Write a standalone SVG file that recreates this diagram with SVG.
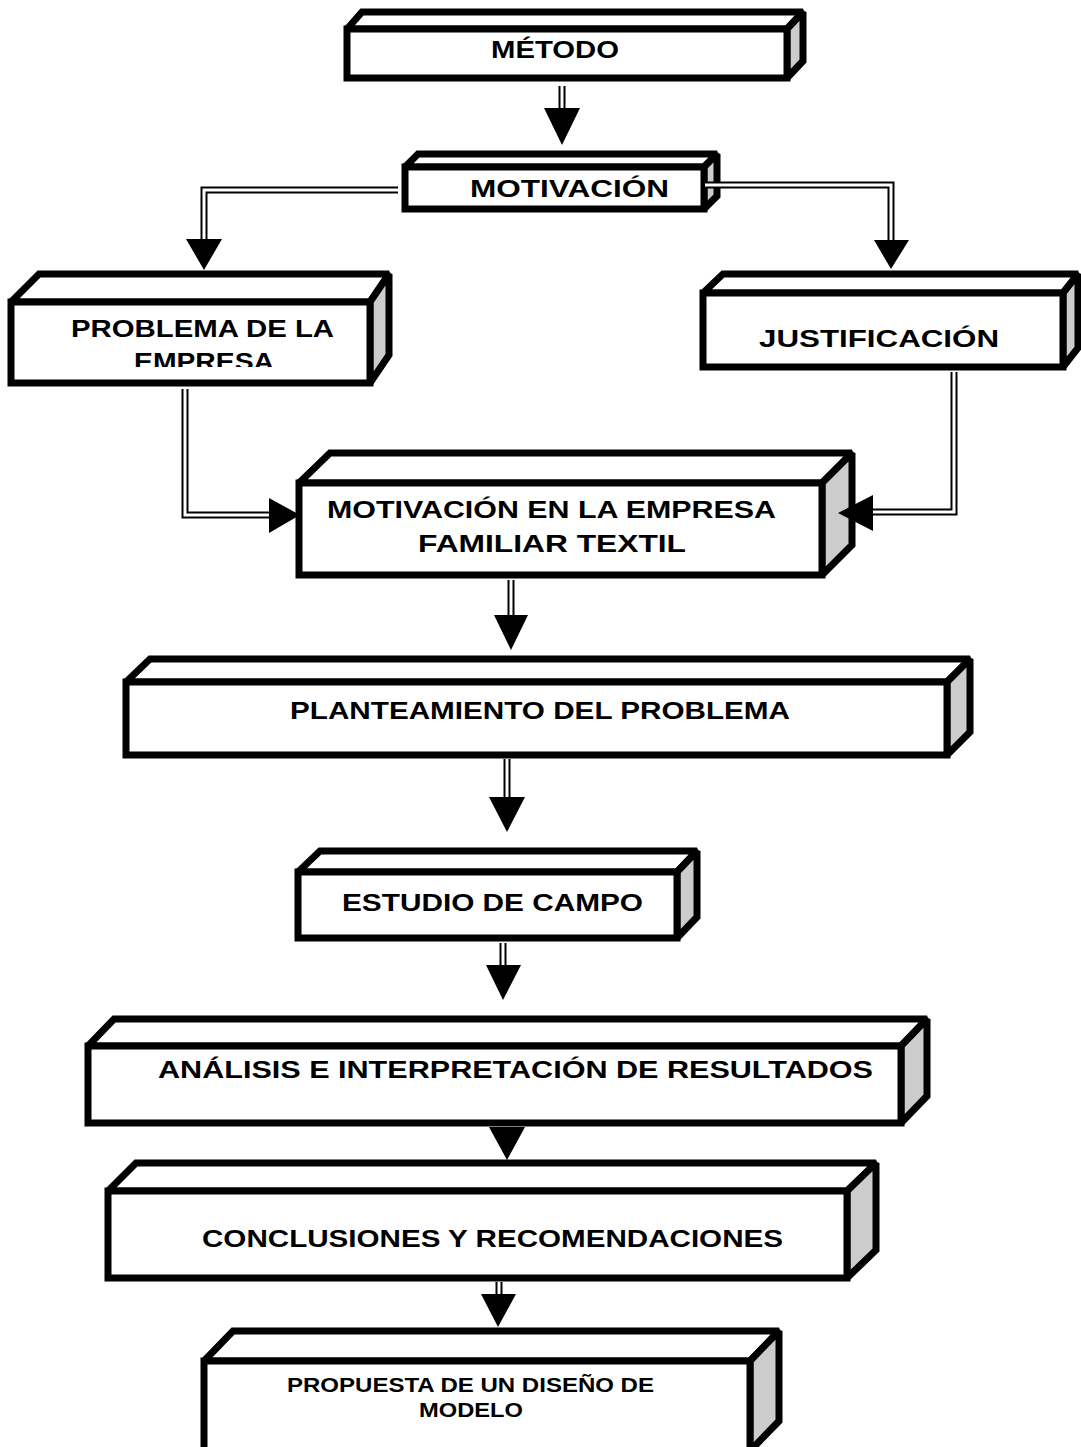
<svg xmlns="http://www.w3.org/2000/svg" width="1081" height="1447" viewBox="0 0 1081 1447">
<style>
  .face{fill:#ffffff;stroke:#000;stroke-width:7;stroke-linejoin:miter;stroke-miterlimit:2}
  .side{fill:#cccccc;stroke:#000;stroke-width:7;stroke-linejoin:miter;stroke-miterlimit:2}
  .lbl{font-family:"Liberation Sans",Arial,sans-serif;font-weight:bold;font-size:24px;fill:#000}
  .sm{font-size:21px}
  .dbl{fill:none;stroke:#000;stroke-width:7;stroke-linejoin:miter}
  .gap{fill:none;stroke:#fff;stroke-width:3;stroke-linejoin:miter}
  .head{fill:#000;stroke:none}
</style>
<defs>
  <clipPath id="clipEmp"><rect x="0" y="0" width="1081" height="367"/></clipPath>
</defs>
<rect x="0" y="0" width="1081" height="1447" fill="#fff"/>

<g id="metodo">
  <path class="face" d="M347,29 L362,12 L803,12 L787,29 Z"/>
  <path class="side" d="M787,29 L803,12 L803,61 L787,78 Z"/>
  <rect class="face" x="347" y="29" width="440" height="49"/>
  <text class="lbl" x="491" y="58" textLength="128" lengthAdjust="spacingAndGlyphs">MÉTODO</text>
</g>

<g id="motivacion">
  <path class="face" d="M405,167 L418,154 L717,154 L704,167 Z"/>
  <path class="side" d="M704,167 L717,154 L717,196 L704,209 Z"/>
  <rect class="face" x="405" y="167" width="299" height="42"/>
  <text class="lbl" x="470" y="197" textLength="199" lengthAdjust="spacingAndGlyphs">MOTIVACIÓN</text>
</g>

<g id="problema">
  <path class="face" d="M11,302 L39,274 L389,274 L370,302 Z"/>
  <path class="side" d="M370,302 L389,274 L389,355 L370,383 Z"/>
  <rect class="face" x="11" y="302" width="359" height="81"/>
  <text class="lbl" x="71" y="337" textLength="263" lengthAdjust="spacingAndGlyphs">PROBLEMA DE LA</text>
  <text class="lbl" x="134" y="370" textLength="140" lengthAdjust="spacingAndGlyphs" clip-path="url(#clipEmp)">EMPRESA</text>
</g>

<g id="justificacion">
  <path class="face" d="M703,293 L723,274 L1078,274 L1063,293 Z"/>
  <path class="side" d="M1063,293 L1078,274 L1078,348 L1063,367 Z"/>
  <rect class="face" x="703" y="293" width="360" height="74"/>
  <text class="lbl" x="759" y="347" textLength="240" lengthAdjust="spacingAndGlyphs">JUSTIFICACIÓN</text>
</g>

<g id="motivacion-empresa">
  <path class="face" d="M299,483 L330,453 L852,453 L822,483 Z"/>
  <path class="side" d="M822,483 L852,453 L852,545 L822,575 Z"/>
  <rect class="face" x="299" y="483" width="523" height="92"/>
  <text class="lbl" x="327" y="518" textLength="449" lengthAdjust="spacingAndGlyphs">MOTIVACIÓN EN LA EMPRESA</text>
  <text class="lbl" x="418" y="552" textLength="268" lengthAdjust="spacingAndGlyphs">FAMILIAR TEXTIL</text>
</g>

<g id="planteamiento">
  <path class="face" d="M126,682 L150,659 L970,659 L947,682 Z"/>
  <path class="side" d="M947,682 L970,659 L970,732 L947,755 Z"/>
  <rect class="face" x="126" y="682" width="821" height="73"/>
  <text class="lbl" x="290" y="719" textLength="500" lengthAdjust="spacingAndGlyphs">PLANTEAMIENTO DEL PROBLEMA</text>
</g>

<g id="estudio">
  <path class="face" d="M298,872 L320,851 L697,851 L677,872 Z"/>
  <path class="side" d="M677,872 L697,851 L697,917 L677,938 Z"/>
  <rect class="face" x="298" y="872" width="379" height="66"/>
  <text class="lbl" x="342" y="911" textLength="301" lengthAdjust="spacingAndGlyphs">ESTUDIO DE CAMPO</text>
</g>

<g id="analisis">
  <path class="face" d="M88,1046 L114,1019 L927,1019 L901,1046 Z"/>
  <path class="side" d="M901,1046 L927,1019 L927,1096 L901,1123 Z"/>
  <rect class="face" x="88" y="1046" width="813" height="77"/>
  <text class="lbl" x="158" y="1078" textLength="715" lengthAdjust="spacingAndGlyphs">ANÁLISIS E INTERPRETACIÓN DE RESULTADOS</text>
</g>

<g id="conclusiones">
  <path class="face" d="M108,1191 L136,1163 L876,1163 L847,1191 Z"/>
  <path class="side" d="M847,1191 L876,1163 L876,1250 L847,1278 Z"/>
  <rect class="face" x="108" y="1191" width="739" height="87"/>
  <text class="lbl" x="202" y="1247" textLength="581" lengthAdjust="spacingAndGlyphs">CONCLUSIONES Y RECOMENDACIONES</text>
</g>

<g id="propuesta">
  <path class="face" d="M204,1361 L233,1331 L779,1331 L750,1361 Z"/>
  <path class="side" d="M750,1361 L779,1331 L779,1421 L750,1451 Z"/>
  <rect class="face" x="204" y="1361" width="546" height="90"/>
  <text class="lbl sm" x="287" y="1392" textLength="367" lengthAdjust="spacingAndGlyphs">PROPUESTA DE UN DISEÑO DE</text>
  <text class="lbl sm" x="419" y="1417" textLength="104" lengthAdjust="spacingAndGlyphs">MODELO</text>
</g>

<g id="connectors">
  <path class="dbl" d="M562,86 V108"/><path class="gap" d="M562,86 V108"/>
  <polygon class="head" points="544,108 580,108 562,145"/>

  <path class="dbl" d="M398,190 H204 V239"/><path class="gap" d="M398,190 H204 V239"/>
  <polygon class="head" points="186,239 222,239 204,270"/>

  <path class="dbl" d="M705,185 H891 V240"/><path class="gap" d="M705,185 H891 V240"/>
  <polygon class="head" points="874,240 909,240 891,269"/>

  <path class="dbl" d="M185,389 V515 H269"/><path class="gap" d="M185,389 V515 H269"/>
  <polygon class="head" points="269,498 269,533 300,515"/>

  <path class="dbl" d="M954,372 V512 H873"/><path class="gap" d="M954,372 V512 H873"/>
  <polygon class="head" points="873,495 873,531 838,513"/>

  <path class="dbl" d="M511,580 V615"/><path class="gap" d="M511,580 V615"/>
  <polygon class="head" points="494,615 528,615 511,650"/>

  <path class="dbl" d="M507,759 V797"/><path class="gap" d="M507,759 V797"/>
  <polygon class="head" points="489,797 525,797 507,832"/>

  <path class="dbl" d="M503,943 V965"/><path class="gap" d="M503,943 V965"/>
  <polygon class="head" points="486,965 521,965 503,1000"/>

  <polygon class="head" points="489,1127 525,1127 507,1160"/>

  <path class="dbl" d="M499,1282 V1294"/><path class="gap" d="M499,1282 V1294"/>
  <polygon class="head" points="481,1294 516,1294 498,1327"/>
</g>
</svg>
